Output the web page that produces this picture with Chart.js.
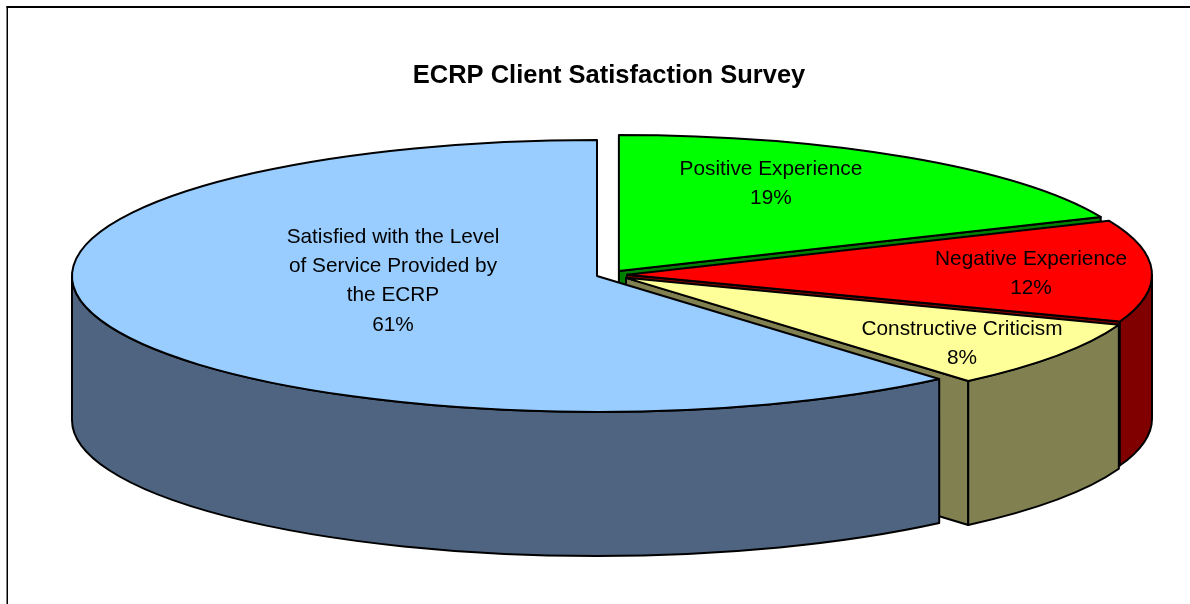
<!DOCTYPE html>
<html>
<head>
<meta charset="utf-8">
<style>
  html, body { margin: 0; padding: 0; background: #fff; }
  canvas { display: block; }
</style>
<script src="https://cdn.jsdelivr.net/npm/chart.js@4"></script>
</head>
<body>
<canvas id="chart" width="1190" height="604"></canvas>
<script>
// ECRP survey, 3D exploded pie. Chart.js has no 3D pie so the tilt and the walls come from a plugin.
const labelLines = [
  ['Positive Experience'],
  ['Negative Experience'],
  ['Constructive Criticism'],
  ['Satisfied with the Level', 'of Service Provided by', 'the ECRP'],
];
const surveyValues = [18.5, 12.1, 8.1, 61.3];

const TOP_COLORS = ['#00ff00', '#ff0000', '#ffff99', '#99ccff'];
const WALL_COLORS = ['#008000', '#800000', '#808050', '#4e6481'];
const EXPLODE = [18, 18, 20.7, 12.8];
// label centre, relative to the slice centre
const LABEL_SHIFT = [[152, -87], [404, -1], [336, 66], [-204, 5]];

const TILT = 0.259;
const DEPTH = 144;
const FONT = "'Liberation Sans', Arial, sans-serif";
const LABEL_SIZE = 20.8;
const LINE_GAP = 29.3;

// arc.y is in untilted space, the tilt squashes it around the chart centre
function sliceGeom(chart, arc) {
  const cy = (chart.chartArea.top + chart.chartArea.bottom) / 2;
  return { x: arc.x, y: cy + (arc.y - cy) * TILT, r: arc.outerRadius };
}

function rim(g, angle) {
  return [g.x + Math.cos(angle) * g.r, g.y + Math.sin(angle) * g.r * TILT];
}

function drawWalls(chart, arcs) {
  const { ctx } = chart;
  arcs.forEach((arc, i) => {
    const g = sliceGeom(chart, arc);
    ctx.fillStyle = WALL_COLORS[i];
    ctx.strokeStyle = '#000';
    ctx.lineWidth = 2;
    ctx.lineJoin = 'round';

    // cut face on the clockwise side, seen only when it looks toward us
    if (arc.endAngle < Math.PI / 2) {
      const p = rim(g, arc.endAngle);
      ctx.beginPath();
      ctx.moveTo(g.x, g.y);
      ctx.lineTo(p[0], p[1]);
      ctx.lineTo(p[0], p[1] + DEPTH);
      ctx.lineTo(g.x, g.y + DEPTH);
      ctx.closePath();
      ctx.fill();
      ctx.stroke();
    }

    // outer wall, front half only
    const from = Math.max(arc.startAngle, 0);
    const to = Math.min(arc.endAngle, Math.PI);
    if (to > from) {
      ctx.beginPath();
      ctx.ellipse(g.x, g.y, g.r, g.r * TILT, 0, from, to);
      ctx.ellipse(g.x, g.y + DEPTH, g.r, g.r * TILT, 0, to, from, true);
      ctx.closePath();
      ctx.fill();
      ctx.stroke();
    }
  });
}

const pie3d = {
  id: 'pie3d',
  // options.offset also grows the radius, so the slices are moved by hand
  afterDatasetsUpdate(chart) {
    chart.getDatasetMeta(0).data.forEach((arc, i) => {
      const mid = (arc.startAngle + arc.endAngle) / 2;
      arc.x += Math.cos(mid) * EXPLODE[i];
      arc.y += Math.sin(mid) * EXPLODE[i];
    });
  },
  beforeDraw(chart) {
    const { ctx } = chart;
    ctx.save();
    ctx.fillStyle = '#000';
    ctx.fillRect(6.5, 6, 1.5, 598);
    ctx.fillRect(6.5, 6, 1183.5, 2);
    ctx.restore();
  },
  beforeDatasetsDraw(chart) {
    const { ctx, chartArea } = chart;
    drawWalls(chart, chart.getDatasetMeta(0).data);
    const cy = (chartArea.top + chartArea.bottom) / 2;
    ctx.save();
    ctx.translate(0, cy);
    ctx.scale(1, TILT);
    ctx.translate(0, -cy);
  },
  afterDatasetsDraw(chart) {
    const { ctx } = chart;
    ctx.restore();
    const arcs = chart.getDatasetMeta(0).data;

    // outlines here so the tilt does not thin the stroke
    ctx.save();
    ctx.strokeStyle = '#000';
    ctx.lineWidth = 2;
    ctx.lineJoin = 'round';
    arcs.forEach((arc) => {
      const g = sliceGeom(chart, arc);
      ctx.beginPath();
      ctx.moveTo(g.x, g.y);
      ctx.ellipse(g.x, g.y, g.r, g.r * TILT, 0, arc.startAngle, arc.endAngle);
      ctx.closePath();
      ctx.stroke();
    });

    ctx.fillStyle = '#000';
    ctx.font = `${LABEL_SIZE}px ${FONT}`;
    ctx.textAlign = 'center';
    ctx.textBaseline = 'middle';
    arcs.forEach((arc, i) => {
      const g = sliceGeom(chart, arc);
      const lines = labelLines[i].concat(`${Math.round(surveyValues[i])}%`);
      const top = g.y + LABEL_SHIFT[i][1] - ((lines.length - 1) * LINE_GAP) / 2;
      lines.forEach((line, n) => {
        ctx.fillText(line, g.x + LABEL_SHIFT[i][0], top + n * LINE_GAP);
      });
    });
    ctx.restore();
  },
};

new Chart(document.getElementById('chart'), {
  type: 'pie',
  data: {
    labels: labelLines.map((l) => l.join(' ')),
    datasets: [
      {
        data: surveyValues,
        backgroundColor: TOP_COLORS,
        borderWidth: 0,
        clip: false,
      },
    ],
  },
  options: {
    responsive: false,
    animation: false,
    events: [],
    radius: 525,
    layout: { padding: { left: 28, right: 0, top: 0, bottom: 146 } },
    plugins: {
      legend: { display: false },
      tooltip: { enabled: false },
      title: {
        display: true,
        text: 'ECRP Client Satisfaction Survey',
        color: '#000',
        font: { family: FONT, size: 25.5, weight: 'bold' },
        padding: { top: 61, bottom: 0 },
      },
    },
  },
  plugins: [pie3d],
});
</script>
</body>
</html>
